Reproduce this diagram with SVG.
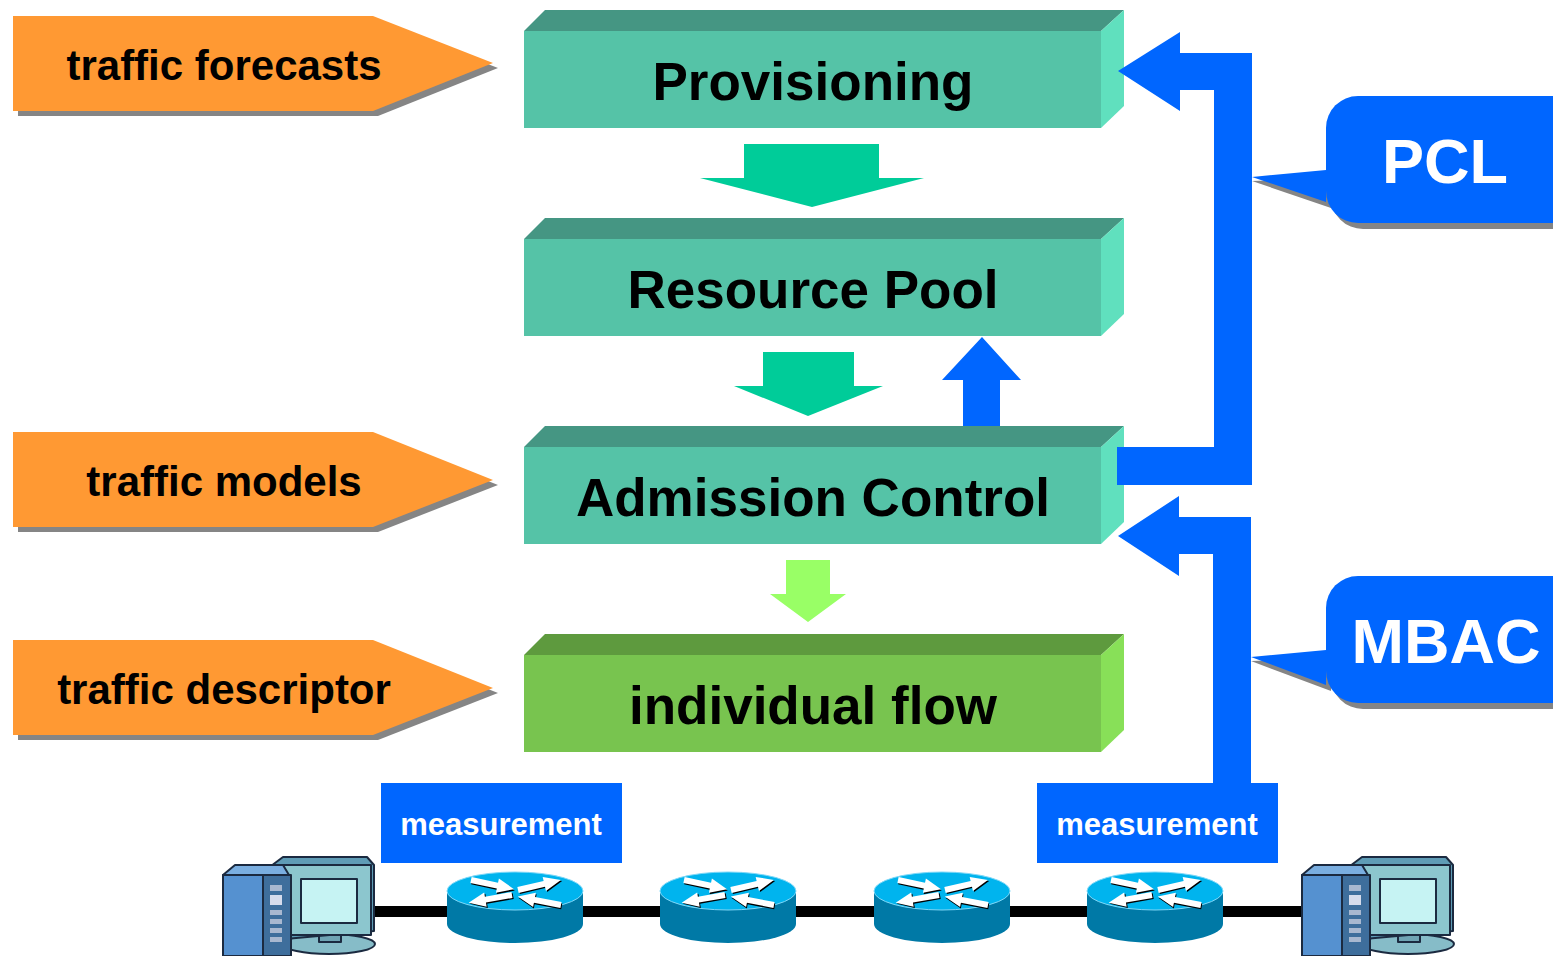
<svg xmlns="http://www.w3.org/2000/svg" xmlns:xlink="http://www.w3.org/1999/xlink" width="1553" height="956" viewBox="0 0 1553 956">
  <style>
    .lbl { font-family: "Liberation Sans", Arial, sans-serif; font-weight: bold; }
    .box-text { font-size: 53px; fill: #000; text-anchor: middle; }
    .in-text { font-size: 42px; fill: #000; text-anchor: middle; }
    .call-text { font-size: 63px; fill: #fff; text-anchor: middle; }
    .meas-text { font-size: 31px; fill: #fff; text-anchor: middle; }
    .teal-top { fill: #459683; }
    .teal-front { fill: #55C3A7; }
    .teal-side { fill: #60E0BE; }
    .green-top { fill: #5E9A3E; }
    .green-front { fill: #78C44F; }
    .green-side { fill: #88E058; }
    .orange { fill: #FF9933; }
    .shadow { fill: #858585; }
    .blue { fill: #0066FF; }
    .pc-line { stroke: #1B2A40; stroke-width: 2; stroke-linejoin: round; }
  </style>
  <defs>
    <!-- white direction arrow used on router tops -->
    <polygon id="rarrow" points="0,-3.5 27,-3.5 27,-8.5 44,0 27,8.5 27,3.5 0,3.5"/>
    <!-- router: flattened cylinder with four arrows -->
    <g id="router">
      <path d="M-68,0 L-68,33 A68,19 0 0 0 68,33 L68,0 Z" fill="#0079A6"/>
      <ellipse cx="0" cy="0" rx="68" ry="19" fill="#00B4EE" stroke="#7FD8F8" stroke-width="1"/>
      <g fill="#000">
        <use xlink:href="#rarrow" transform="translate(-44,-11) rotate(12) scale(1,0.85) translate(1,1.5)"/>
        <use xlink:href="#rarrow" transform="translate(3,-1) rotate(-13) scale(1,0.85) translate(1,1.5)"/>
        <use xlink:href="#rarrow" transform="translate(-3,4) rotate(170) scale(1,0.85) translate(-1,-1.5)"/>
        <use xlink:href="#rarrow" transform="translate(46,14) rotate(191) scale(1,0.85) translate(-1,-1.5)"/>
      </g>
      <g fill="#fff">
        <use xlink:href="#rarrow" transform="translate(-44,-11) rotate(12) scale(1,0.85)"/>
        <use xlink:href="#rarrow" transform="translate(3,-1) rotate(-13) scale(1,0.85)"/>
        <use xlink:href="#rarrow" transform="translate(-3,4) rotate(170) scale(1,0.85)"/>
        <use xlink:href="#rarrow" transform="translate(46,14) rotate(191) scale(1,0.85)"/>
      </g>
    </g>
    <!-- desktop computer: tower on the left, monitor on the right -->
    <g id="computer">
      <ellipse cx="108" cy="89" rx="46" ry="10" fill="#86BCC8" class="pc-line"/>
      <rect x="98" y="74" width="22" height="13" fill="#6FA4B4" class="pc-line"/>
      <path d="M46,14 L62,2 L146,2 L153,10 L153,76 L64,84 Z" fill="#5F9CB6" class="pc-line"/>
      <rect x="62" y="10" width="88" height="70" fill="#8CC6CE" class="pc-line"/>
      <rect x="80" y="24" width="56" height="44" fill="#C6F3F3" class="pc-line"/>
      <path d="M2,20 L14,10 L62,10 L68,20 Z" fill="#7AAEE0" class="pc-line"/>
      <rect x="2" y="20" width="40" height="81" fill="#5591D0" class="pc-line"/>
      <rect x="42" y="20" width="28" height="81" fill="#3E6E9C" class="pc-line"/>
      <g fill="#A8B8D0">
        <rect x="49" y="30" width="12" height="6"/>
        <rect x="49" y="40" width="12" height="10" fill="#D6DCEC"/>
        <rect x="49" y="55" width="12" height="5"/>
        <rect x="49" y="64" width="12" height="5"/>
        <rect x="49" y="73" width="12" height="5"/>
        <rect x="49" y="82" width="12" height="5"/>
      </g>
    </g>
  </defs>

  <!-- input arrows on the left -->
  <g id="traffic-forecasts">
    <polygon class="shadow" points="18,21 378,21 498,68 378,116 18,116"/>
    <polygon class="orange" points="13,16 373,16 493,63 373,111 13,111"/>
    <text class="lbl in-text" x="224" y="80">traffic forecasts</text>
  </g>
  <g id="traffic-models">
    <polygon class="shadow" points="18,437 378,437 498,485 378,532 18,532"/>
    <polygon class="orange" points="13,432 373,432 493,480 373,527 13,527"/>
    <text class="lbl in-text" x="224" y="496">traffic models</text>
  </g>
  <g id="traffic-descriptor">
    <polygon class="shadow" points="18,645 378,645 498,693 378,740 18,740"/>
    <polygon class="orange" points="13,640 373,640 493,688 373,735 13,735"/>
    <text class="lbl in-text" x="224" y="704">traffic descriptor</text>
  </g>

  <!-- feedback arrow from admission control up to the resource pool -->
  <g id="ac-to-pool">
    <polygon class="blue" points="963,432 963,380 942,380 982,337 1021,380 1000,380 1000,432"/>
  </g>

  <!-- stacked 3-D blocks -->
  <g id="provisioning">
    <polygon class="teal-top" points="524,31 545,10 1124,10 1101,31"/>
    <polygon class="teal-side" points="1101,31 1124,10 1124,106 1101,128"/>
    <rect class="teal-front" x="524" y="31" width="577" height="97"/>
    <text class="lbl box-text" x="813" y="100">Provisioning</text>
  </g>
  <g id="resource-pool">
    <polygon class="teal-top" points="524,239 545,218 1124,218 1101,239"/>
    <polygon class="teal-side" points="1101,239 1124,218 1124,314 1101,336"/>
    <rect class="teal-front" x="524" y="239" width="577" height="97"/>
    <text class="lbl box-text" x="813" y="308">Resource Pool</text>
  </g>
  <g id="admission-control">
    <polygon class="teal-top" points="524,447 545,426 1124,426 1101,447"/>
    <polygon class="teal-side" points="1101,447 1124,426 1124,522 1101,544"/>
    <rect class="teal-front" x="524" y="447" width="577" height="97"/>
    <text class="lbl box-text" x="813" y="516">Admission Control</text>
  </g>
  <g id="individual-flow">
    <polygon class="green-top" points="524,655 545,634 1124,634 1101,655"/>
    <polygon class="green-side" points="1101,655 1124,634 1124,730 1101,752"/>
    <rect class="green-front" x="524" y="655" width="577" height="97"/>
    <text class="lbl box-text" x="813" y="724">individual flow</text>
  </g>

  <!-- connectors -->
  <g id="connectors">
    <polygon fill="#00CC99" points="744,144 879,144 879,178 924,178 812,207 700,178 744,178"/>
    <polygon fill="#00CC99" points="763,352 854,352 854,386 883,386 808,416 734,386 763,386"/>
    <polygon fill="#99FF66" points="786,560 830,560 830,594 846,594 808,622 770,594 786,594"/>
    <!-- PCL loop: admission control back to provisioning -->
    <polygon class="blue" points="1117,447 1214,447 1214,90 1180,90 1180,111 1118,71 1180,32 1180,53 1252,53 1252,485 1117,485"/>
    <!-- MBAC loop: measurement back to admission control -->
    <polygon class="blue" points="1251,783 1251,517 1179,517 1179,496 1118,536 1179,576 1179,554 1213,554 1213,783"/>
  </g>

  <!-- callouts -->
  <g id="pcl">
    <rect class="shadow" x="1331" y="102" width="290" height="127" rx="32"/>
    <polygon class="shadow" points="1331,178 1252,181 1331,208"/>
    <polygon class="blue" points="1326,170 1252,177 1326,202"/>
    <rect class="blue" x="1326" y="96" width="290" height="127" rx="32"/>
    <text class="lbl call-text" x="1445" y="183">PCL</text>
  </g>
  <g id="mbac">
    <rect class="shadow" x="1331" y="582" width="290" height="127" rx="32"/>
    <polygon class="shadow" points="1331,658 1251,661 1331,691"/>
    <polygon class="blue" points="1326,650 1251,657 1326,685"/>
    <rect class="blue" x="1326" y="576" width="290" height="127" rx="32"/>
    <text class="lbl call-text" x="1446" y="663">MBAC</text>
  </g>

  <!-- measurement points -->
  <g id="measurement-left">
    <rect class="blue" x="381" y="783" width="241" height="80"/>
    <text class="lbl meas-text" x="501" y="835">measurement</text>
  </g>
  <g id="measurement-right">
    <rect class="blue" x="1037" y="783" width="241" height="80"/>
    <text class="lbl meas-text" x="1157" y="835">measurement</text>
  </g>

  <!-- network path -->
  <g id="network">
    <rect x="372" y="906" width="930" height="11" fill="#000"/>
  </g>
  <g id="router-1"><use xlink:href="#router" transform="translate(515,891)"/></g>
  <g id="router-2"><use xlink:href="#router" transform="translate(728,891)"/></g>
  <g id="router-3"><use xlink:href="#router" transform="translate(942,891)"/></g>
  <g id="router-4"><use xlink:href="#router" transform="translate(1155,891)"/></g>
  <g id="host-left"><use xlink:href="#computer" transform="translate(221,855)"/></g>
  <g id="host-right"><use xlink:href="#computer" transform="translate(1300,855)"/></g>
</svg>
